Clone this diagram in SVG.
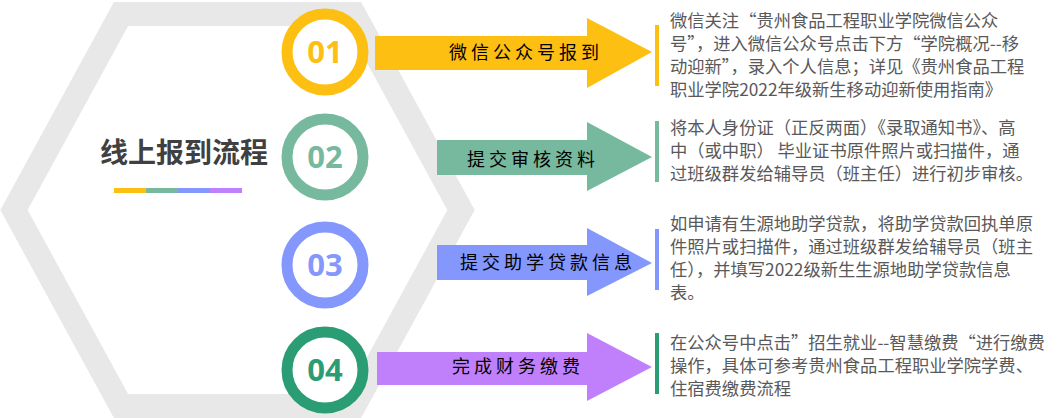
<svg xmlns="http://www.w3.org/2000/svg" width="1059" height="418" viewBox="0 0 1059 418">
<style>
.num{font-family:"Open Sans","Noto Sans",sans-serif;font-weight:bold;font-size:31px;text-anchor:middle}
.lbl{font-family:"Noto Sans CJK SC",sans-serif;font-size:18px;fill:#000;text-anchor:middle;letter-spacing:4px}
.desc{font-family:"Noto Sans CJK SC",sans-serif;font-size:17.3px;fill:#595959}
</style>
<rect width="1059" height="418" fill="#fff"/>
<polygon points="14,210 121,14 354,14 461,210 354,406 121,406" fill="none" stroke="#e8e8e8" stroke-width="24"/>
<g id="title">
<text x="184" y="163" font-family="Noto Sans CJK SC,sans-serif" font-weight="bold" font-size="28" fill="#404040" text-anchor="middle">线上报到流程</text>
<rect x="114" y="188" width="32" height="5" fill="#fdbf12"/><rect x="146" y="188" width="32" height="5" fill="#76b99e"/><rect x="178" y="188" width="32" height="5" fill="#8497fc"/><rect x="210" y="188" width="32" height="5" fill="#c080fc"/>
</g>
<g id="connectors">
<polygon points="375,36 587,36 587,18 652,52 587,88 587,70 375,70" fill="#fdbf12"/>
<polygon points="437,140 587,140 587,122 652,157 587,191 587,175 437,175" fill="#76b99e"/>
<polygon points="437,245 587,245 587,228 652,263 587,296 587,280 437,280" fill="#8497fc"/>
<polygon points="377,352 587,352 587,333 652,367 587,401 587,385 377,385" fill="#c080fc"/>
<rect x="655" y="25" width="4" height="61" fill="#fdbf12"/>
<rect x="655" y="121" width="4" height="61" fill="#76b99e"/>
<rect x="655" y="229" width="4" height="61" fill="#8497fc"/>
<rect x="655" y="333" width="4" height="61" fill="#2a9d74"/>
</g>
<g id="step1">
<circle cx="325" cy="52" r="38" fill="#fff" stroke="#fdbf12" stroke-width="11"/>
<text class="num" x="325" y="63" fill="#fdbf12">01</text>
<text class="lbl" x="526" y="59">微信公众号报到</text>
<text class="desc"><tspan x="670" y="27">微信关注“贵州食品工程职业学院微信公众</tspan><tspan x="670" y="50">号”，进入微信公众号点击下方“学院概况--移</tspan><tspan x="670" y="73">动迎新”，录入个人信息；详见《贵州食品工程</tspan><tspan x="670" y="96">职业学院2022年级新生移动迎新使用指南》</tspan></text>
</g>
<g id="step2">
<circle cx="325" cy="157" r="38" fill="#fff" stroke="#76b99e" stroke-width="11"/>
<text class="num" x="325" y="168" fill="#76b99e">02</text>
<text class="lbl" x="533" y="166">提交审核资料</text>
<text class="desc"><tspan x="670" y="134">将本人身份证（正反两面）《录取通知书》、高</tspan><tspan x="670" y="157">中（或中职） 毕业证书原件照片或扫描件，通</tspan><tspan x="670" y="180">过班级群发给辅导员（班主任）进行初步审核。</tspan></text>
</g>
<g id="step3">
<circle cx="325" cy="265" r="38" fill="#fff" stroke="#8497fc" stroke-width="11"/>
<text class="num" x="325" y="276" fill="#8497fc">03</text>
<text class="lbl" x="548" y="269">提交助学贷款信息</text>
<text class="desc"><tspan x="670" y="230">如申请有生源地助学贷款，将助学贷款回执单原</tspan><tspan x="670" y="253">件照片或扫描件，通过班级群发给辅导员（班主</tspan><tspan x="670" y="276">任），并填写2022级新生生源地助学贷款信息</tspan><tspan x="670" y="299">表。</tspan></text>
</g>
<g id="step4">
<circle cx="325" cy="370" r="38" fill="#fff" stroke="#2a9d74" stroke-width="11"/>
<text class="num" x="325" y="381" fill="#2a9d74">04</text>
<text class="lbl" x="518" y="373">完成财务缴费</text>
<text class="desc"><tspan x="670" y="349">在公众号中点击”招生就业--智慧缴费“进行缴费</tspan><tspan x="670" y="372">操作，具体可参考贵州食品工程职业学院学费、</tspan><tspan x="670" y="395">住宿费缴费流程</tspan></text>
</g>
</svg>
